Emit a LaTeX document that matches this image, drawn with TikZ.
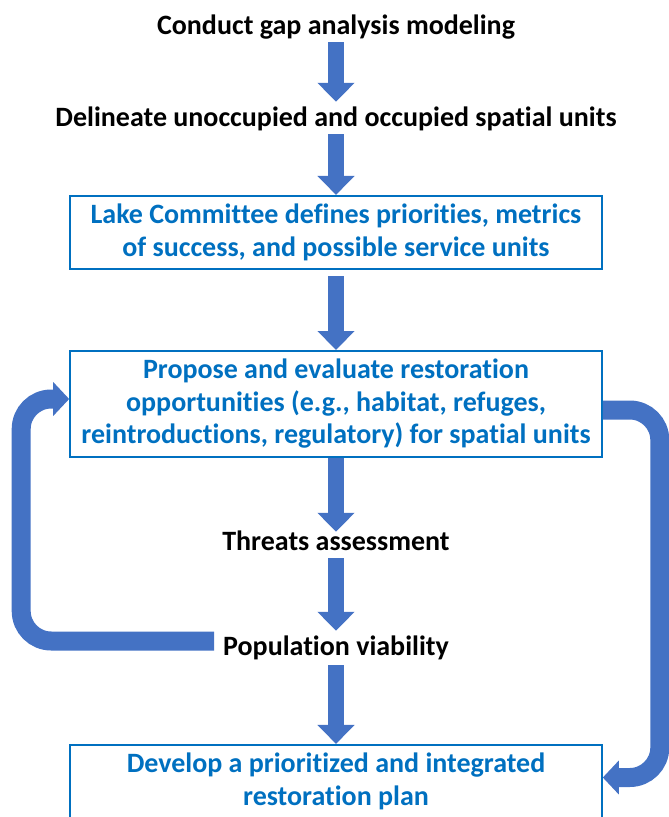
\documentclass[tikz,border=0pt]{standalone}
\usepackage{fontspec}
\setmainfont{Carlito}[Ligatures=NoCommon]
\usetikzlibrary{arrows.meta}
\definecolor{lcInk}{HTML}{000000}
\definecolor{lcBlue}{HTML}{0070C0}
\definecolor{lcArrow}{HTML}{4472C4}
\tikzset{
  lc text/.style={font=\fontsize{28}{32}\selectfont\bfseries, text=lcInk, inner sep=0pt, minimum height=34pt},
  lc box/.style={draw=lcBlue, line width=1.6pt, font=\fontsize{28}{32.5}\selectfont\bfseries, text=lcBlue, align=center, minimum width=532pt, inner ysep=8.5pt},
  lc flow/.style={draw=lcArrow, line width=16pt, -{Triangle[length=19pt,width=36pt]}},
  lc loop/.style={draw=lcArrow, line width=19pt, rounded corners=30pt, -{Triangle[length=16pt,width=33pt]}},
}
\begin{document}
\begin{tikzpicture}[x=1pt,y=-1pt]
\useasboundingbox(0,0)rectangle(669,817);\clip(0,0)rectangle(669,817);
\node[lc text](gap)at(336,27){Conduct gap analysis modeling};
\node[lc text](units)at(336,119){Delineate unoccupied and occupied spatial units};
\node[lc box](committee)at(336,232.5){Lake Committee defines priorities, metrics\\of success, and possible service units};
\node[lc box](propose)at(336,404){Propose and evaluate restoration\\opportunities (e.g., habitat, refuges,\\reintroductions, regulatory) for spatial units};
\node[lc text](threats)at(336,541){Threats assessment};
\node[lc text](viability)at(336,648){Population viability};
\node[lc box](plan)at(336,781.5){Develop a prioritized and integrated\\restoration plan};
\draw[lc flow,shorten <=-2pt](gap.south)--(units.north);
\draw[lc flow,shorten <=-2pt](units.south)--(committee.north);
\draw[lc flow,shorten <=6pt](committee.south)--(propose.north);
\draw[lc flow,shorten >=-8pt](propose.south)--(threats.north);
\draw[lc flow](threats.south)--(viability.north);
\draw[lc flow](viability.south)--(plan.north);
\draw[lc loop]([shift={(-9pt,7pt)}]viability.west)-|([shift={(-48pt,5pt)}]propose.west)--([yshift=5pt]propose.west);
\draw[lc loop]([yshift=-6pt]propose.east)-|([shift={(57pt,4pt)}]plan.east)--([yshift=4pt]plan.east);
\end{tikzpicture}
\end{document}
